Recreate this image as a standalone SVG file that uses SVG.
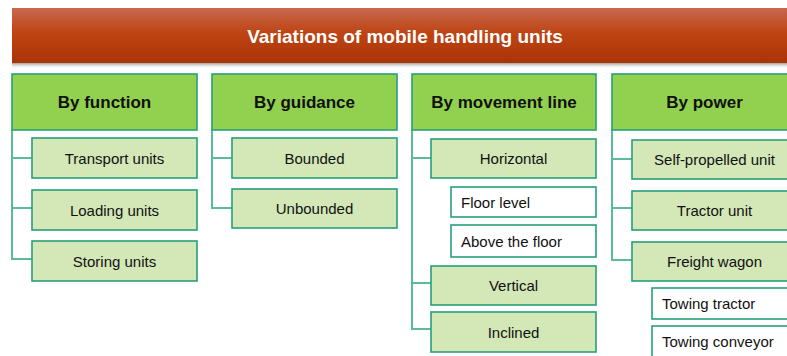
<svg xmlns="http://www.w3.org/2000/svg" width="787" height="356" viewBox="0 0 787 356">
<defs>
<linearGradient id="tg" x1="0" y1="0" x2="0" y2="1">
<stop offset="0" stop-color="#c7684f"/>
<stop offset="0.45" stop-color="#bf4413"/>
<stop offset="1" stop-color="#a93408"/>
</linearGradient>
<linearGradient id="sg" x1="0" y1="0" x2="0" y2="1">
<stop offset="0" stop-color="#8a8a8a" stop-opacity="0.8"/>
<stop offset="1" stop-color="#ffffff" stop-opacity="0"/>
</linearGradient>
<style>
text{font-family:"Liberation Sans",Arial,sans-serif;fill:#111}
.title{font-size:19px;font-weight:bold;fill:#fff;text-anchor:middle}
.hd rect{fill:#92d050;stroke:#26a07a;stroke-width:1.6}
.hd text{font-size:17px;font-weight:bold;text-anchor:middle}
.ch rect{fill:#d3e7b7;stroke:#26a07a;stroke-width:1.6}
.ch text{font-size:15px;text-anchor:middle}
.sb rect{fill:#fff;stroke:#26a07a;stroke-width:1.6}
.sb text{font-size:15px}
#connectors path{fill:none;stroke:#5cbb9b;stroke-width:2}
</style>
</defs>

<g id="title">
<rect x="12" y="63" width="780" height="6" fill="url(#sg)"/>
<rect x="12" y="8" width="780" height="55" fill="url(#tg)"/>
<text class="title" x="405" y="43">Variations of mobile handling units</text>
</g>

<g id="connectors">
<path d="M12 130V259M11 158H32M11 208H32M11 259H32"/>
<path d="M212 130V208M211 158H232M211 208H232"/>
<path d="M412 130V329M411 158H431M411 283H431M411 329H431"/>
<path d="M612 130V260M611 159H632M611 208H632M611 260H632"/>
</g>

<g id="h-function" class="hd"><rect x="12" y="74" width="185" height="56"/><text x="104.5" y="108">By function</text></g>
<g id="h-guidance" class="hd"><rect x="212" y="74" width="185" height="56"/><text x="304.5" y="108">By guidance</text></g>
<g id="h-movement" class="hd"><rect x="412" y="74" width="184" height="56"/><text x="504" y="108">By movement line</text></g>
<g id="h-power" class="hd"><rect x="612" y="74" width="185" height="56"/><text x="704.5" y="108">By power</text></g>

<g id="n-transport" class="ch"><rect x="32" y="138" width="165" height="40"/><text x="114.5" y="163.5">Transport units</text></g>
<g id="n-loading" class="ch"><rect x="32" y="190" width="165" height="40"/><text x="114.5" y="215.5">Loading units</text></g>
<g id="n-storing" class="ch"><rect x="32" y="241" width="165" height="40"/><text x="114.5" y="266.5">Storing units</text></g>

<g id="n-bounded" class="ch"><rect x="232" y="138" width="165" height="40"/><text x="314.5" y="163.5">Bounded</text></g>
<g id="n-unbounded" class="ch"><rect x="232" y="189" width="165" height="39"/><text x="314.5" y="213.5">Unbounded</text></g>

<g id="n-horizontal" class="ch"><rect x="431" y="139" width="165" height="39"/><text x="513.5" y="164">Horizontal</text></g>
<g id="n-floor" class="sb"><rect x="451" y="187" width="145" height="30"/><text x="461" y="207.5">Floor level</text></g>
<g id="n-above" class="sb"><rect x="451" y="225" width="145" height="32"/><text x="461" y="246.5">Above the floor</text></g>
<g id="n-vertical" class="ch"><rect x="431" y="266" width="165" height="39"/><text x="513.5" y="291">Vertical</text></g>
<g id="n-inclined" class="ch"><rect x="431" y="312" width="165" height="40"/><text x="513.5" y="337.5">Inclined</text></g>

<g id="n-self" class="ch"><rect x="632" y="140" width="165" height="39"/><text x="714.5" y="165">Self-propelled unit</text></g>
<g id="n-tractor" class="ch"><rect x="632" y="191" width="165" height="39"/><text x="714.5" y="216">Tractor unit</text></g>
<g id="n-freight" class="ch"><rect x="632" y="242" width="165" height="39"/><text x="714.5" y="267">Freight wagon</text></g>
<g id="n-towtractor" class="sb"><rect x="652" y="288" width="145" height="31"/><text x="662" y="309">Towing tractor</text></g>
<g id="n-towconveyor" class="sb"><rect x="652" y="326" width="145" height="35"/><text x="662" y="347">Towing conveyor</text></g>
</svg>
